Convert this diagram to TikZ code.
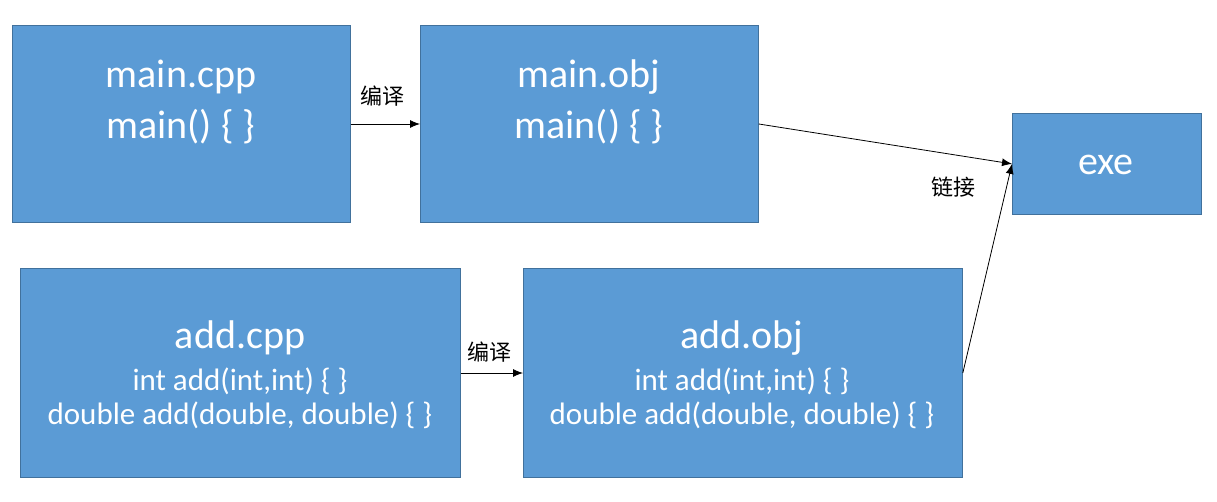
\documentclass[tikz,border=0pt]{standalone}
\usepackage{fontspec}
\setmainfont{Carlito}
\newfontfamily\cjk{Noto Sans CJK SC}
\usetikzlibrary{arrows.meta}
\definecolor{boxblue}{HTML}{5B9BD5}
\definecolor{boxedge}{HTML}{41719C}
\begin{document}
\begin{tikzpicture}[x=1pt,y=-1pt,
 box/.style={draw=boxedge, fill=boxblue, line width=0.8pt, inner sep=0, anchor=north west},
 title/.style={text=white, font=\fontsize{40}{46}\selectfont, inner sep=0},
 code/.style={text=white, font=\fontsize{31}{36}\selectfont, inner sep=0},
 lbl/.style={font=\cjk\fontsize{22}{26}\selectfont, inner sep=0},
 arr/.style={-{Latex[length=10pt,width=8pt]}, line width=0.8pt}]
\useasboundingbox (0,0) rectangle (1217,502);
% boxes
\node[box, minimum width=338pt, minimum height=197pt] (mcpp) at (12,25) {};
\node[box, minimum width=338pt, minimum height=197pt] (mobj) at (420,25) {};
\node[box, minimum width=189pt, minimum height=101pt] (exe) at (1012,113) {};
\node[box, minimum width=440pt, minimum height=209pt] (acpp) at (20,268) {};
\node[box, minimum width=439pt, minimum height=209pt] (aobj) at (523,268) {};
% texts
\node[title] (t1) at (181,77) {main.cpp};
\node[title] (t2) at (181,127) {main() \{ \}};
\node[title] (t3) at (589,77) {main.obj};
\node[title] (t4) at (589,127) {main() \{ \}};
\node[title] (t5) at (1106,165) {exe};
\node[title] (t6) at (240,338) {add.cpp};
\node[code] (t7) at (240,381) {int add(int,int) \{ \}};
\node[code] (t8) at (240,415) {double add(double, double) \{ \}};
\node[title] (t9) at (742,338) {add.obj};
\node[code] (t10) at (742,381) {int add(int,int) \{ \}};
\node[code] (t11) at (742,415) {double add(double, double) \{ \}};
% arrows
\draw[arr] (mcpp.east |- 0,124) -- (mobj.west |- 0,124);
\draw[arr] (acpp.east |- 0,373) -- (aobj.west |- 0,373);
\draw[arr] (mobj.east |- 0,124) -- (exe.west);
\draw[arr] (aobj.east |- 0,373) -- (exe.west);
% labels
\node[lbl] (l1) at (382,96) {编译};
\node[lbl] (l2) at (489,352) {编译};
\node[lbl] (l3) at (953,187) {链接};
\end{tikzpicture}
\end{document}
